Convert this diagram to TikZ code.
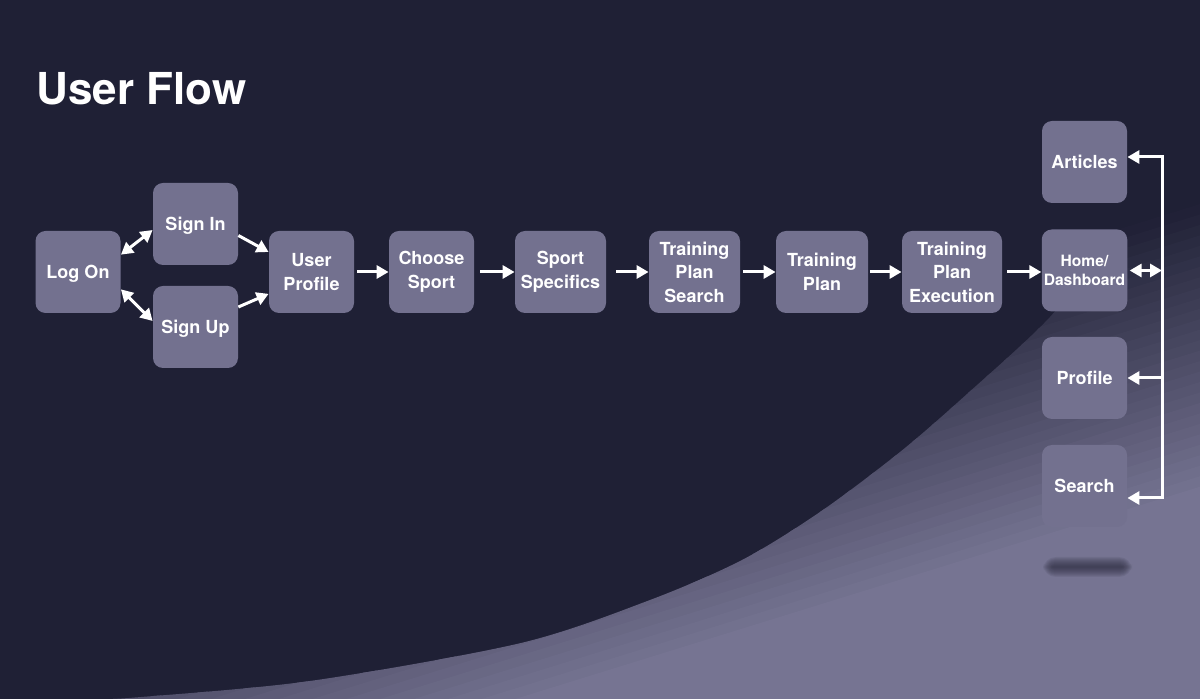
\documentclass[tikz,border=0pt]{standalone}
\usepackage{fontspec}
\setmainfont{TeX Gyre Heros}
\usetikzlibrary{arrows.meta}

\definecolor{navybg}{RGB}{31,32,53}
\definecolor{boxgray}{RGB}{115,113,143}
\definecolor{litbot}{RGB}{118,116,146}
\definecolor{shadowcol}{RGB}{38,38,56}

\begin{document}
\begin{tikzpicture}[x=0.5pt,y=-0.5pt,
    flowbox/.style={rounded corners=5pt, fill=boxgray, text=white, align=center,
        minimum width=42.5pt, minimum height=41pt, inner sep=1pt,
        font=\bfseries\fontsize{9}{11.75}\selectfont},
    oneline/.style={text height=6.5pt, text depth=0pt},
    flowline/.style={white, line width=1.5pt},
    onearrow/.style={flowline, -{Triangle[length=6pt,width=6.5pt]}},
    twoarrow/.style={flowline, {Triangle[length=6pt,width=6.5pt]}-{Triangle[length=6pt,width=6.5pt]}}]
    % background and lit corner
    \useasboundingbox[fill=navybg] (0,0) rectangle (1200,699);
    \begin{scope}
        \clip plot[smooth, tension=0.5] coordinates {(90,699.5) (135,697.5) (310,681) (521,643) (650,600) (742,560) (820,512) (900,452) (967,394) (1050,317) (1110,240) (1150,160) (1172,80) (1180,0)} -- (1200,0) -- (1200,699) -- cycle;
        \foreach \k in {0,...,27} {
            \pgfmathsetmacro\sa{550+10*\k}
            \pgfmathsetmacro\sb{\sa+12}
            \pgfmathsetmacro\mixv{(10*\k+5)/2.76}
            \fill[litbot!\mixv!navybg] (0,{\sa/0.955}) -- (1200,{(\sa-355.2)/0.955}) -- (1200,{(\sb-355.2)/0.955}) -- (0,{\sb/0.955}) -- cycle;
        }
        \fill[litbot] (0,{826/0.955}) -- (1200,{(826-355.2)/0.955}) -- (1200,900) -- (0,900) -- cycle;
    \end{scope}
    \foreach \b in {0,...,9}
        \fill[shadowcol, opacity=0.09, rounded corners=1pt+0.6pt*\b] (1052-\b,566-\b) rectangle (1123+\b,568+\b);

    \node[anchor=base west, inner sep=0, text=white, font=\bfseries\fontsize{22}{26}\selectfont] (title) at (36,105) {User Flow};

    % main flow
    \node[flowbox, oneline] (logon) at (78,272) {Log On};
    \node[flowbox, oneline] (signin) at (195.5,224) {Sign In};
    \node[flowbox, oneline] (signup) at (195.5,327) {Sign Up};
    \node[flowbox] (userprofile) at (311.5,272) {User\\Profile};
    \node[flowbox] (choosesport) at (431.5,272) {Choose\\Sport};
    \node[flowbox, minimum width=45.5pt] (sportspec) at (560.5,272) {Sport\\Specifics};
    \node[flowbox, minimum width=45.5pt] (plansearch) at (694.5,272) {Training\\Plan\\Search};
    \node[flowbox, minimum width=46pt] (plan) at (822,272) {Training\\Plan};
    \node[flowbox, minimum width=50pt] (planexec) at (952,272) {Training\\Plan\\Execution};

    % menu column
    \node[flowbox, oneline] (articles) at (1084.5,162) {Articles};
    \node[flowbox, font=\bfseries\fontsize{7.8}{9.5}\selectfont] (home) at (1084.5,270.5) {Home/\\Dashboard};
    \node[flowbox, oneline] (profile) at (1084.5,378) {Profile};
    \node[flowbox, oneline] (search) at (1084.5,486) {Search};

    \draw[twoarrow] (logon.22) -- (signin.188);
    \draw[twoarrow] (logon.-22) -- (signup.172);
    \draw[onearrow] (signin.-15) -- (userprofile.155);
    \draw[onearrow] (signup.25) -- (userprofile.207);

    \draw[onearrow, shorten <=1.5pt] (userprofile) -- (choosesport);
    \draw[onearrow, shorten <=3pt] (choosesport) -- (sportspec);
    \draw[onearrow, shorten <=5pt] (sportspec) -- (plansearch);
    \draw[onearrow, shorten <=1.5pt] (plansearch) -- (plan);
    \draw[onearrow, shorten <=1pt] (plan) -- (planexec);
    \draw[onearrow, shorten <=2.5pt] (planexec) -- (home.west |- planexec);

    % bus to the menu
    \coordinate (bustop) at (1162,157);
    \coordinate (busbot) at (1162,498);
    \draw[flowline, line cap=rect] (bustop) -- (busbot);
    \draw[onearrow] (bustop) -- (bustop -| articles.east);
    \draw[onearrow] (busbot) -- (busbot -| search.east);
    \draw[onearrow] (profile.east -| bustop) -- (profile.east);
    \draw[twoarrow, shorten <=1pt] (home.east) -- (home.east -| bustop);
\end{tikzpicture}
\end{document}
